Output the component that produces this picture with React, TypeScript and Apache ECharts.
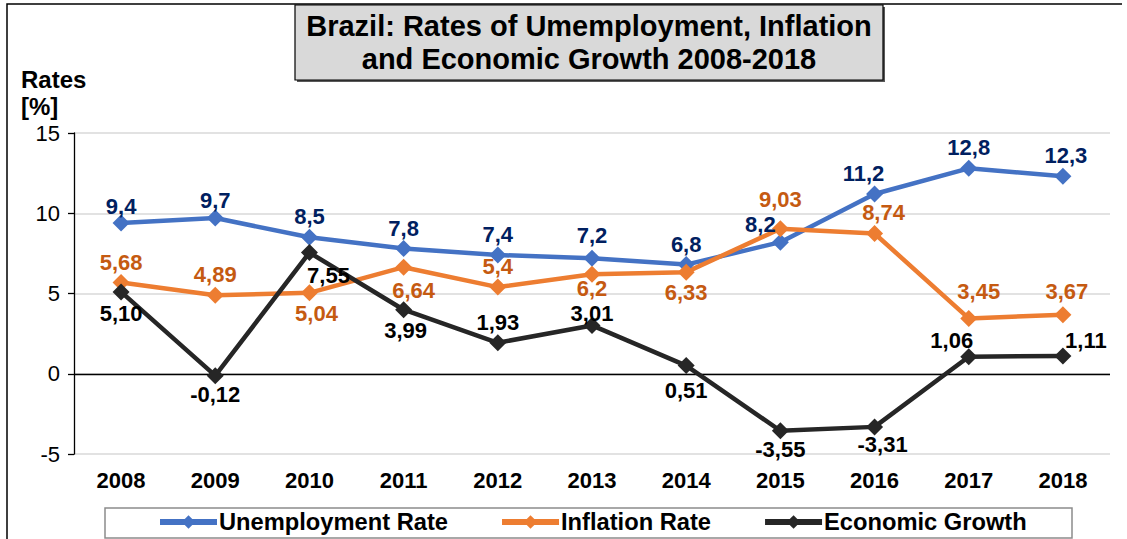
import React, { useEffect, useRef } from "react";
import * as echarts from "echarts";

const years = ["2008", "2009", "2010", "2011", "2012", "2013", "2014", "2015", "2016", "2017", "2018"];
const unemployment = [9.4, 9.7, 8.5, 7.8, 7.4, 7.2, 6.8, 8.2, 11.2, 12.8, 12.3];
const inflation = [5.68, 4.89, 5.04, 6.64, 5.4, 6.2, 6.33, 9.03, 8.74, 3.45, 3.67];
const growth = [5.1, -0.12, 7.55, 3.99, 1.93, 3.01, 0.51, -3.55, -3.31, 1.06, 1.11];

const seriesNames = ["Unemployment Rate", "Inflation Rate", "Economic Growth"];
const titleLines = ["Brazil: Rates of Umemployment, Inflation", "and Economic Growth 2008-2018"];
const yTitle = ["Rates", "[%]"];

// label placement (position, dx, dy) per point
const unempLabelPlace: [string, number, number][] = [
  ["top", 0, 4], ["top", 0, 3], ["top", 0, 0], ["top", 0, 0], ["top", 0, 0], ["top", 0, -2],
  ["top", 0, 0], ["top", -20, 3], ["top", -11, 0], ["top", 0, 0], ["top", 3, 0],
];
const inflLabelPlace: [string, number, number][] = [
  ["top", 0, 0], ["top", 0, 0], ["bottom", 7, 0], ["bottom", 10, 3], ["top", 0, 0], ["bottom", 0, -6],
  ["bottom", 0, 0], ["top", 0, -9], ["top", 9, 0], ["top", 10, -6], ["top", 4, -3],
];
const growthLabelPlace: [string, number, number][] = [
  ["bottom", 0, 1], ["bottom", 0, -2], ["bottom", 19, 2], ["bottom", 2, 0], ["top", 0, 0], ["top", 0, 9],
  ["bottom", 0, 4], ["bottom", 0, -2], ["bottom", 8, -3], ["top", -17, 4], ["top", 23, 5],
];

const FONT = "'Liberation Sans', Arial, Helvetica, sans-serif";

function fmt(v: number, digits?: number) {
  const s = digits === undefined ? String(v) : v.toFixed(digits);
  return s.replace(".", ",");
}

function buildData(values: number[], place: [string, number, number][], color: string, digits?: number) {
  return values.map((v, i) => ({
    value: v,
    label: {
      show: true,
      position: place[i][0],
      offset: [place[i][1], place[i][2]],
      distance: 1,
      formatter: () => fmt(v, digits),
      color,
      fontFamily: FONT,
      fontWeight: "bold",
      fontSize: 22,
    },
  }));
}

export default function App() {
  const ref = useRef<HTMLDivElement>(null);
  useEffect(() => {
    if (!ref.current) return;
    const chart = echarts.init(ref.current, null, { renderer: "svg" });
    const lineSeries = (name: string, data: any[], color: string, extra: any = {}) => ({
      name,
      type: "line",
      data,
      symbol: "diamond",
      symbolSize: 17,
      lineStyle: { color, width: 4.5 },
      itemStyle: { color },
      ...extra,
    });
    chart.setOption({
      animation: false,
      textStyle: { fontFamily: FONT },
      grid: { left: 74, right: 17, top: 133, bottom: 85, containLabel: false },
      xAxis: {
        type: "category",
        data: years,
        boundaryGap: true,
        axisLine: { show: false, onZero: false },
        axisTick: { show: false },
        axisLabel: { color: "#000", fontFamily: FONT, fontWeight: "bold", fontSize: 22, margin: 15 },
        splitLine: { show: false },
      },
      yAxis: {
        type: "value",
        min: -5,
        max: 15,
        interval: 5,
        axisLine: { show: true, lineStyle: { color: "#000", width: 1.3 } },
        axisTick: { show: true, length: 6, lineStyle: { color: "#000", width: 1.3 } },
        axisLabel: { color: "#000", fontFamily: FONT, fontSize: 22, margin: 14 },
        splitLine: { show: true, lineStyle: { color: "#d9d9d9", width: 1.5 } },
      },
      legend: {
        data: seriesNames,
        left: 157,
        top: 510,
        itemWidth: 57,
        itemHeight: 17,
        itemGap: 51,
        padding: 0,
        lineStyle: { width: 6 },
        textStyle: { color: "#000", fontFamily: FONT, fontWeight: "bold", fontSize: 23.7, padding: [0, 0, 0, -3] },
      },
      graphic: [
        {
          type: "polyline",
          shape: { points: [[7, 600], [7, 4], [1122, 4]] },
          style: { stroke: "#000", lineWidth: 1.5, fill: null },
          silent: true,
        },
        {
          type: "rect",
          shape: { x: 297, y: 7, width: 588, height: 75 },
          style: { fill: "#595959" },
          silent: true,
        },
        {
          type: "rect",
          shape: { x: 295, y: 5, width: 588, height: 75 },
          style: { fill: "#d9d9d9", stroke: "#000", lineWidth: 1.2 },
          silent: true,
        },
        {
          type: "text",
          x: 589,
          y: 42,
          style: {
            text: titleLines.join("\n"),
            fontFamily: FONT,
            fontWeight: "bold",
            fontSize: 29,
            lineHeight: 33,
            align: "center",
            verticalAlign: "middle",
            fill: "#000",
          },
          silent: true,
        },
        {
          type: "text",
          x: 21,
          y: 93,
          style: {
            text: yTitle.join("\n"),
            fontFamily: FONT,
            fontWeight: "bold",
            fontSize: 24,
            lineHeight: 27,
            align: "left",
            verticalAlign: "middle",
            fill: "#000",
          },
          silent: true,
        },
        {
          type: "rect",
          shape: { x: 105, y: 508, width: 967, height: 30 },
          style: { fill: null, stroke: "#8c8c8c", lineWidth: 1.5 },
          silent: true,
          z: -1,
        },
      ],
      series: [
        lineSeries(seriesNames[0], buildData(unemployment, unempLabelPlace, "#002060", 1), "#4472C4", {
          markLine: {
            silent: true,
            symbol: "none",
            label: { show: false },
            lineStyle: { color: "#000", width: 1.3, type: "solid" },
            data: [{ yAxis: 0 }],
            z: 1,
          },
        }),
        lineSeries(seriesNames[1], buildData(inflation, inflLabelPlace, "#C55A11"), "#ED7D31"),
        lineSeries(seriesNames[2], buildData(growth, growthLabelPlace, "#000000", 2), "#262626"),
      ],
    });
    return () => chart.dispose();
  }, []);
  return (
    <div
      ref={ref}
      style={{ position: "fixed", left: 0, top: 0, width: 1127, height: 539, background: "#fff" }}
    />
  );
}
